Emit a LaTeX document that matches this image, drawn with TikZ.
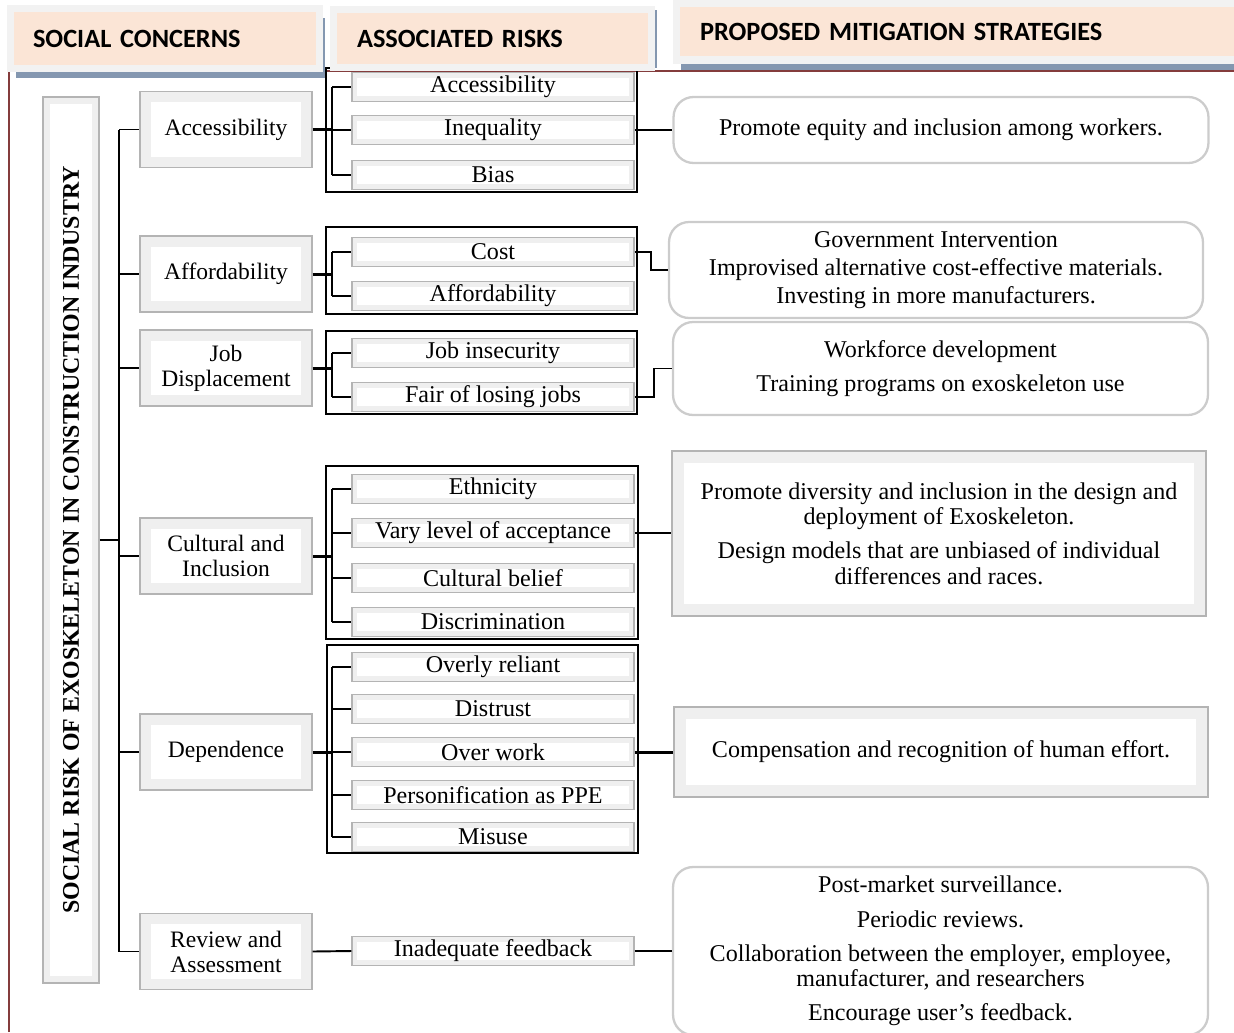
\documentclass[tikz,border=0pt]{standalone}
\usepackage{fontspec}
\usepackage{graphicx}
\setmainfont{Liberation Serif}
\newfontfamily\headfont{Carlito}
\usetikzlibrary{calc, shadows}

\definecolor{peach}{HTML}{FBE5D6}
\definecolor{hframe}{HTML}{F2F2F2}
\definecolor{hbar}{HTML}{8497B0}
\definecolor{redline}{HTML}{843C3C}
\definecolor{bevelband}{HTML}{EFEFEF}
\definecolor{bevelline}{HTML}{B4B4B4}

\begin{document}
\begin{tikzpicture}[
    x=0.02cm, y=-0.02cm,
    every node/.style={font=\fontsize{13.7}{14.4}\selectfont},
    bevelbox/.style={draw=bevelline, line width=0.8pt, fill=bevelband,
        path picture={\fill[white] ([shift={(#1,#1)}]path picture bounding box.south west) rectangle ([shift={(-#1,-#1)}]path picture bounding box.north east);}},
    bevelbox/.default=4pt,
    header/.style={fill=peach, draw=hframe, line width=4pt, align=left, inner ysep=0pt,
        font=\headfont\bfseries\fontsize{15}{17}\selectfont},
    hshadow/.style={drop shadow={fill=hbar, opacity=1, shadow xshift=3pt, shadow yshift=#1}},
    hshadow/.default=-5.5pt,
    concern/.style={bevelbox=6pt, minimum width=3.44cm, minimum height=1.52cm, align=center, inner sep=0pt,
        font=\fontsize{13.4}{14.2}\selectfont},
    risk/.style={bevelbox=3pt, minimum width=5.64cm, minimum height=0.58cm, inner sep=0pt},
    mitround/.style={draw=gray!40, line width=1.3pt, fill=white, rounded corners=0.4cm,
        align=center, minimum width=10.7cm, inner sep=0pt},
    mitbevel/.style={bevelbox=7pt, align=center, minimum width=10.68cm, inner sep=0pt},
    conn/.style={line width=1.1pt},
    thickconn/.style={line width=1.7pt},
    grpframe/.style={line width=1.1pt}
    ]
    \useasboundingbox (0,0) rectangle (1234,1032);

    \draw[redline, line width=0.6pt] (9,1032) -- (9,71) -- (1234,71);

    % left title bar
    \node[bevelbox=4pt, minimum width=1.12cm, minimum height=17.72cm, inner sep=0pt] (title) at (71,540)
        {\rotatebox{90}{\bfseries\fontsize{13.6}{14}\selectfont SOCIAL RISK OF EXOSKELETON IN CONSTRUCTION INDUSTRY}};

    % social concerns
    \node[concern] (acc) at (226,129.5) {Accessibility};
    \node[concern] (aff) at (226,274) {Affordability};
    \node[concern] (job) at (226,368) {Job\\Displacement};
    \node[concern] (cul) at (226,556) {Cultural and\\Inclusion};
    \node[concern] (dep) at (226,752) {Dependence};
    \node[concern] (rev) at (226,951.5) {Review and\\Assessment};

    % associated risks
    \node[risk] (accA) at (493,87) {Accessibility};
    \node[risk] (accB) at (493,130) {Inequality};
    \node[risk] (accC) at (493,175) {Bias};

    \node[risk] (affA) at (493,252) {Cost};
    \node[risk] (affB) at (493,296) {Affordability};

    \node[risk] (jobA) at (493,353) {Job insecurity};
    \node[risk] (jobB) at (493,397) {Fair of losing jobs};

    \node[risk] (culA) at (493,489) {Ethnicity};
    \node[risk] (culB) at (493,533) {Vary level of acceptance};
    \node[risk] (culC) at (493,578) {Cultural belief};
    \node[risk] (culD) at (493,622) {Discrimination};

    \node[risk] (depA) at (493,667) {Overly reliant};
    \node[risk] (depB) at (493,709) {Distrust};
    \node[risk] (depC) at (493,752) {Over work};
    \node[risk] (depD) at (493,795) {Personification as PPE};
    \node[risk] (depE) at (493,837) {Misuse};

    \node[risk] (revA) at (493,951) {Inadequate feedback};

    % mitigation strategies
    \node[mitround, minimum height=1.32cm] (mitAcc) at (941,130) {Promote equity and inclusion among workers.};
    \node[mitround, minimum width=10.68cm, minimum height=1.92cm] (mitAff) at (936,270)
        {Government Intervention\\[1.4pt]Improvised alternative cost-effective materials.\\[1.4pt]Investing in more manufacturers.};
    \node[mitround, minimum height=1.86cm] (mitJob) at (940.5,368.5)
        {Workforce development\\[5pt]Training programs on exoskeleton use};
    \node[mitbevel, minimum height=3.3cm] (mitCul) at (939,533.5)
        {Promote diversity and inclusion in the design and\\deployment of Exoskeleton.\\[5pt]Design models that are unbiased of individual\\differences and races.};
    \node[mitbevel, minimum height=1.8cm] (mitDep) at (941,752) {Compensation and recognition of human effort.};
    \node[mitround, minimum height=3.36cm] (mitRev) at (940.5,951)
        {Post-market surveillance.\\[5pt]Periodic reviews.\\[5pt]Collaboration between the employer, employee,\\manufacturer, and researchers\\[5pt]Encourage user's feedback.};

    % main trunk
    \coordinate (trunk) at (119,540);
    \coordinate (sub) at (332,0);
    \draw[conn] (title.east) -- (title.east -| trunk);
    \draw[conn] (acc.west -| trunk) -- (rev.west -| trunk);
    \foreach \c in {acc, aff, job, cul, dep, rev}
        \draw[conn] (\c.west -| trunk) -- (\c.west);

    % group frames
    \draw[grpframe] ($(accA.north west)+(-25,-4)$) rectangle ($(accC.south east)+(2,2)$);
    \draw[grpframe] ($(affA.north west)+(-25,-10)$) rectangle ($(affB.south east)+(2,3)$);
    \draw[grpframe] ($(jobA.north west)+(-25,-7)$) rectangle ($(jobB.south east)+(2,2)$);
    \draw[grpframe] ($(culA.north west)+(-25,-8)$) rectangle ($(culD.south east)+(3,2)$);
    \draw[grpframe] ($(depA.north west)+(-24,-7)$) rectangle ($(depE.south east)+(3,1)$);

    % concern to risks
    \draw[thickconn] (acc.east) -- (acc.east -| sub);
    \draw[conn] (accA.west -| sub) -- (accC.west -| sub);
    \foreach \r in {accA, accB, accC}
        \draw[conn] (\r.west -| sub) -- (\r.west);

    \draw[thickconn] (aff.east) -- (aff.east -| sub);
    \draw[conn] (affA.west -| sub) -- (affB.west -| sub);
    \foreach \r in {affA, affB}
        \draw[conn] (\r.west -| sub) -- (\r.west);

    \draw[thickconn] (job.east) -- (job.east -| sub);
    \draw[conn] (jobA.west -| sub) -- (jobB.west -| sub);
    \foreach \r in {jobA, jobB}
        \draw[conn] (\r.west -| sub) -- (\r.west);

    \draw[thickconn] (cul.east) -- (cul.east -| sub);
    \draw[conn] (culA.west -| sub) -- (culD.west -| sub);
    \foreach \r in {culA, culB, culC, culD}
        \draw[conn] (\r.west -| sub) -- (\r.west);

    \draw[thickconn] (dep.east) -- (dep.east -| sub);
    \draw[thickconn] (depA.west -| sub) -- (depE.west -| sub);
    \foreach \r in {depA, depB, depC, depD, depE}
        \draw[conn] (\r.west -| sub) -- (\r.west);

    \draw[conn] (rev.east) -- (revA.west);

    % risks to mitigation
    \draw[conn] (accB.east) -- (accB.east -| mitAcc.west);
    \draw[conn] (affA.east) -- ++(16,0) |- (mitAff.west);
    \draw[conn] (jobB.east) -- ++(19,0) |- (mitJob.west);
    \draw[conn] (culB.east) -- (culB.east -| mitCul.west);
    \draw[thickconn] (depC.east) -- (depC.east -| mitDep.west);
    \draw[conn] (revA.east) -- (revA.east -| mitRev.west);

    % column headers
    \node[header, hshadow, text width=5.28cm, inner xsep=0.45cm, minimum height=1.2cm] (hSoc) at (165,38.5) {SOCIAL CONCERNS};
    \node[header, hshadow=0pt, text width=5.42cm, inner xsep=0.47cm, minimum height=1.16cm] (hRisk) at (492.5,38.5) {ASSOCIATED RISKS};
    \node[header, hshadow, text width=10.42cm, inner xsep=0.48cm, minimum height=1.13cm] (hMit) at (960.5,31.75) {PROPOSED MITIGATION STRATEGIES};
\end{tikzpicture}
\end{document}
